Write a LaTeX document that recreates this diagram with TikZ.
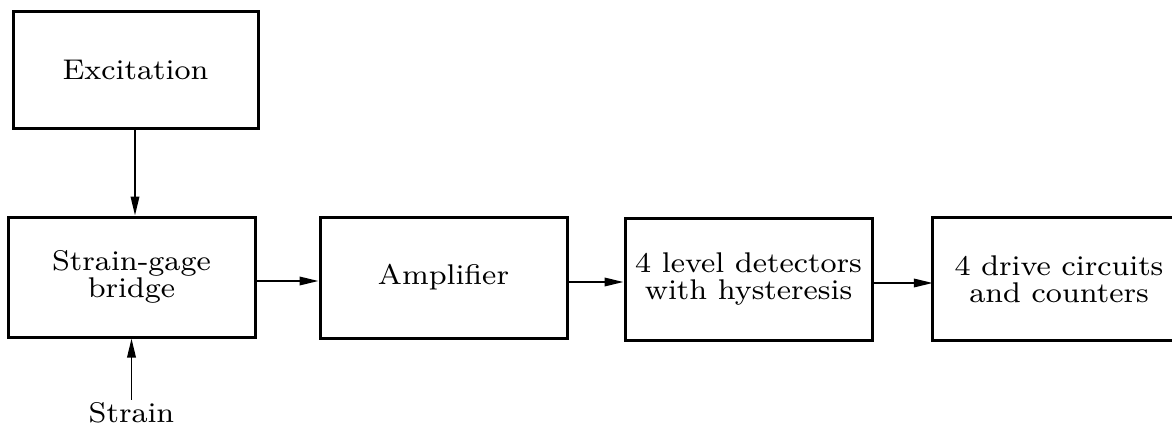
\documentclass[tikz,border=0pt]{standalone}
\usepackage{fontspec}
\setmainfont{lmroman8-regular.otf}[FakeStretch=1.06]
\usetikzlibrary{arrows.meta}
\begin{document}
\begin{tikzpicture}[x=1pt,y=-1pt,
  blk/.style={draw, line width=3pt, inner sep=0pt, align=center,
    font=\fontsize{28.5}{27.5}\selectfont},
  txt/.style={inner sep=0pt, align=center, font=\fontsize{28.5}{27.5}\selectfont},
  lbl/.style={inner sep=2pt, font=\fontsize{28.5}{27.5}\selectfont},
  arr/.style={line width=1.9pt, -{Triangle[length=19pt,width=8.5pt]}}]
\useasboundingbox (0,0) rectangle (1172,428);
\node[blk, minimum width=245pt, minimum height=116pt] (exc) at (135.5,70) {Excitation};
\node[blk, minimum width=247pt, minimum height=120pt] (bridge) at (131.5,277) {Strain-gage\\bridge};
\node[blk, minimum width=247pt, minimum height=121pt] (amp) at (443.5,277.5) {Amplifier};
\node[blk, minimum width=247pt, minimum height=122pt] (lev) at (748.5,279) {4 level detectors\\with hysteresis};
\node[txt, minimum width=252pt, minimum height=122pt] (drv) at (1059,279) {4 drive circuits\\and counters};
\draw[line width=3pt] (drv.north east) -- (drv.north west) -- (drv.south west) -- (drv.south east);
\node[lbl, anchor=base] (strain) at (131.5,422) {Strain};
\draw[arr] ([xshift=-0.5pt]exc.south) -- ([xshift=-0.5pt]exc.south |- bridge.north);
\draw[arr] (strain.north) -- (bridge.south);
\draw[arr] ([yshift=-4pt]bridge.east) -- ([yshift=-4pt]bridge.east -| amp.west);
\draw[arr] ([yshift=-4.5pt]amp.east) -- ([yshift=-4.5pt]amp.east -| lev.west);
\draw[arr] ([yshift=-4pt]lev.east) -- ([yshift=-4pt]lev.east -| drv.west);
\end{tikzpicture}
\end{document}
